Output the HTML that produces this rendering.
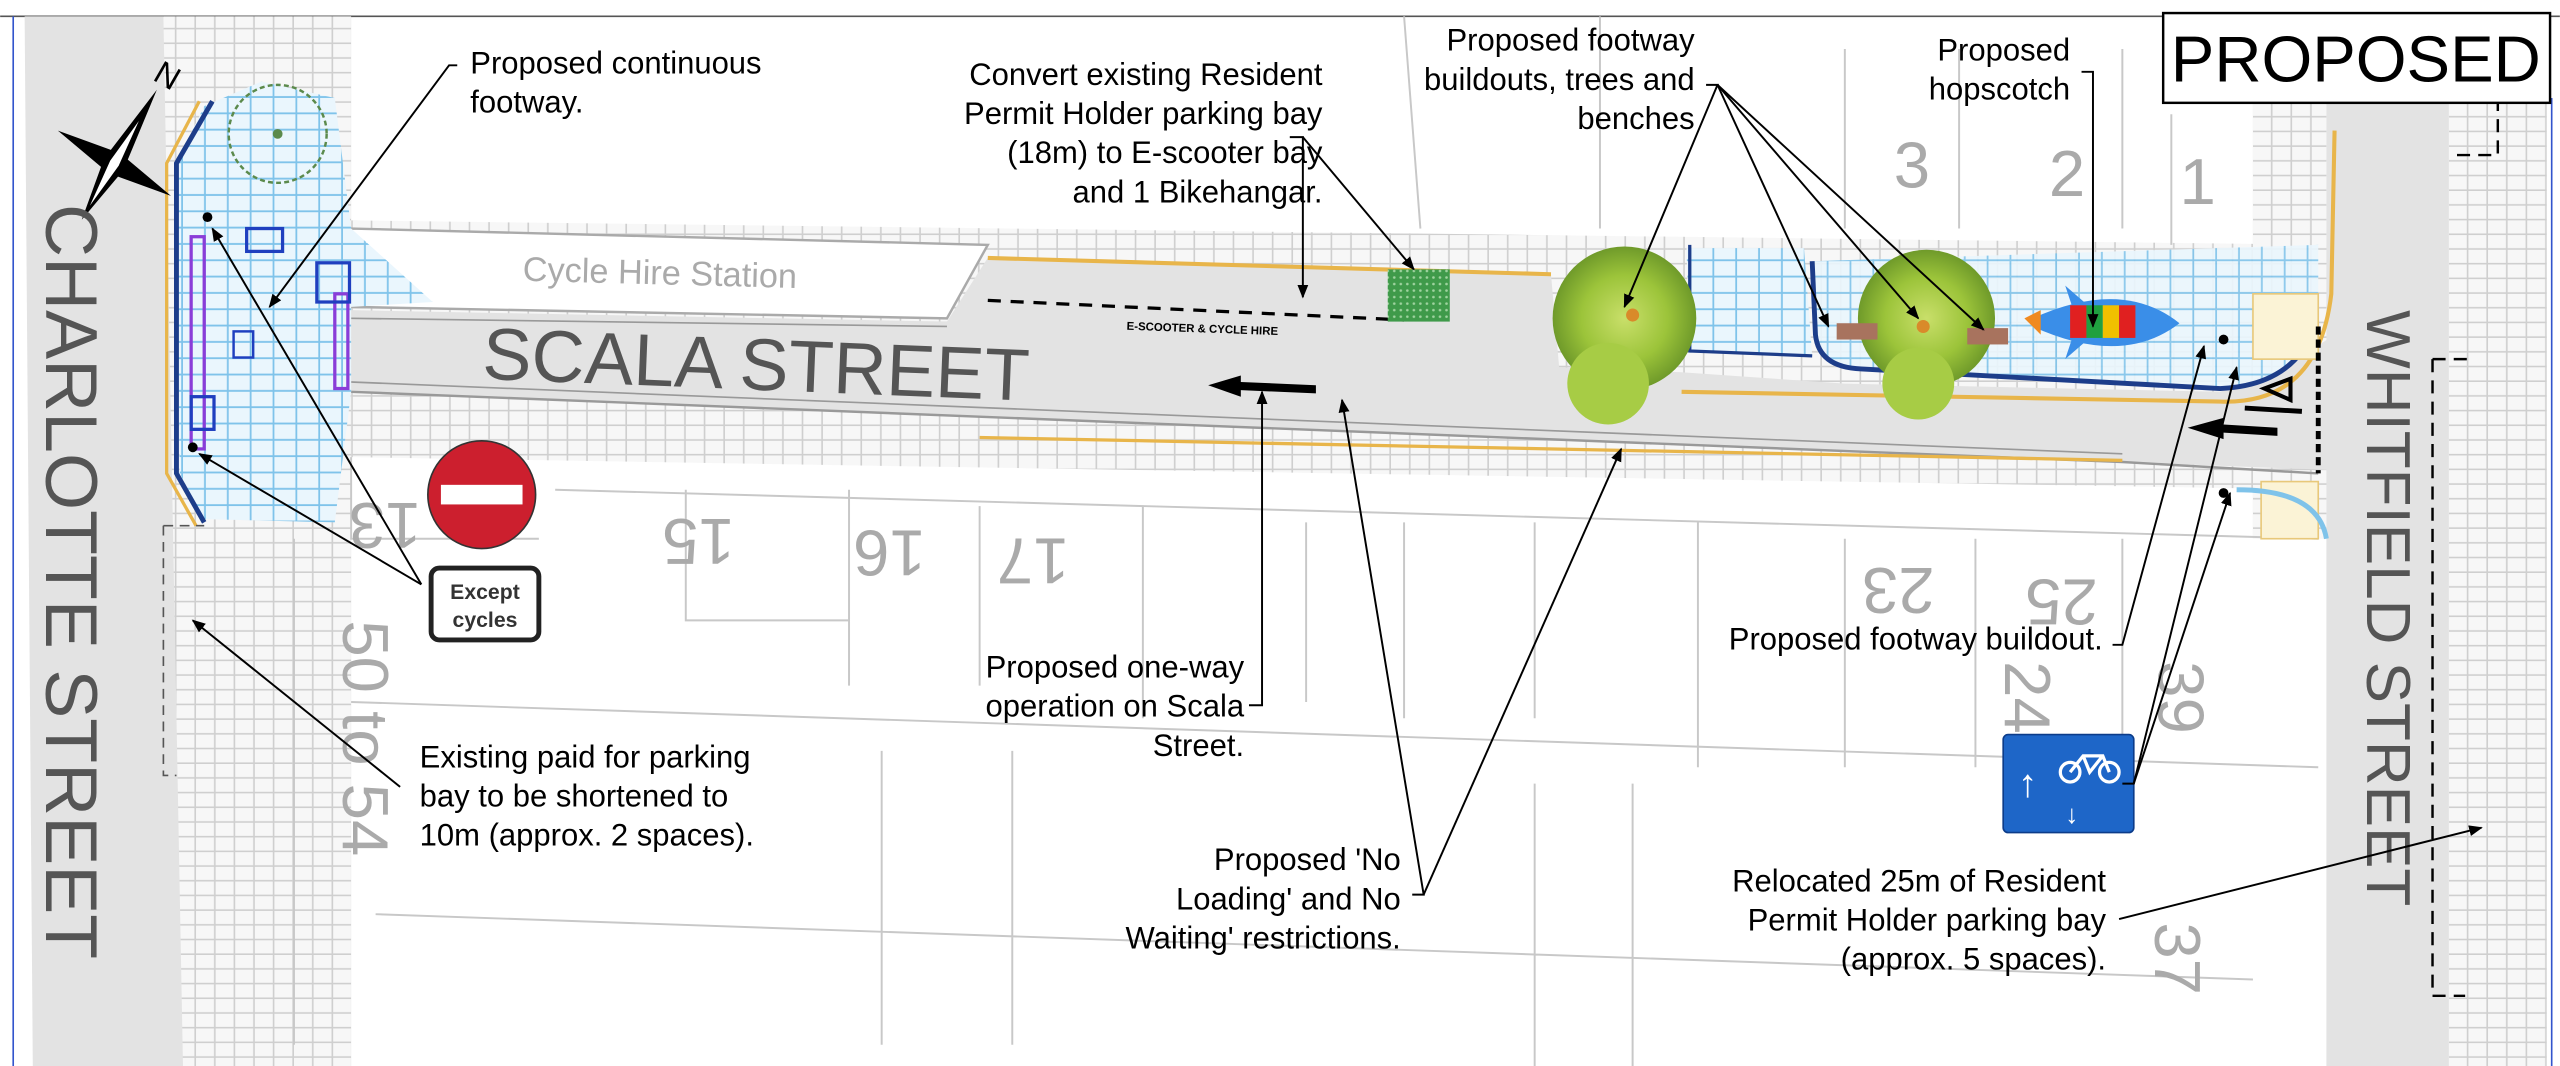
<!DOCTYPE html>
<html><head><meta charset="utf-8"><style>
html,body{margin:0;padding:0;background:#fff;}
svg{display:block;}
text{font-family:"Liberation Sans",Arial,sans-serif;}
</style></head><body>
<svg width="2560" height="1066" viewBox="0 0 1568 653" xmlns="http://www.w3.org/2000/svg">
<defs>
<pattern id="pave" width="12" height="9" patternUnits="userSpaceOnUse">
<rect width="12" height="9" fill="#f7f7f7"/>
<path d="M0 8.5H12M11.5 0V9" stroke="#cfcfcf" stroke-width="1"/>
</pattern>
<pattern id="blue" width="14" height="10" patternUnits="userSpaceOnUse">
<rect width="14" height="10" fill="#eaf6fd"/>
<path d="M0 9.5H14M13.5 0V10" stroke="#7fc3ea" stroke-width="1.2"/>
</pattern>
<pattern id="green" width="4" height="4" patternUnits="userSpaceOnUse">
<rect width="4" height="4" fill="#3f9a4a"/><circle cx="2" cy="2" r="0.8" fill="#9fd39f"/>
</pattern>
<marker id="ar" viewBox="0 0 10 10" refX="9" refY="5" markerWidth="7" markerHeight="7" orient="auto-start-reverse">
<path d="M0 1L10 5L0 9z" fill="#000"/></marker>
<radialGradient id="tree"><stop offset="0" stop-color="#c9df6a"/><stop offset="0.6" stop-color="#9cc43a"/><stop offset="1" stop-color="#6f9a2a"/></radialGradient>
</defs>
<rect width="1568" height="653" fill="#fff"/>
<line x1="0" y1="10" x2="1568" y2="10" stroke="#555" stroke-width="1"/>
<line x1="8" y1="10" x2="8" y2="653" stroke="#3355cc" stroke-width="1"/>
<line x1="1563" y1="60" x2="1563" y2="653" stroke="#3355cc" stroke-width="1"/>

<polygon points="100,10 215,10 215,653 100,653" fill="url(#pave)"/>
<polygon points="215,135 1430,150 1430,300 215,280" fill="url(#pave)"/>
<polygon points="1500,60 1560,60 1560,653 1500,653" fill="url(#pave)"/>
<polygon points="1380,60 1425,60 1425,330 1380,330" fill="url(#pave)"/>
<g fill="none" stroke="#c8c8c8" stroke-width="1.2">
<path d="M215 280 L215 330 L330 330 M340 300 L1420 330"/>
<path d="M420 300 L420 380 L520 380 M520 300 L520 420 M600 310 L600 420 M700 310 L700 440 M800 320 L800 430 M860 320 L860 440 M940 320 L940 440 M1040 320 L1040 470 M1130 330 L1130 470 M1210 330 L1210 470 M1300 330 L1300 460"/>
<path d="M180 330 L180 640 M215 430 L1420 470 M230 560 L1380 600 M540 460 L540 640 M620 460 L620 640 M940 480 L940 653 M1000 480 L1000 653"/>
<path d="M980 10 L980 140 M1130 30 L1130 140 M1200 30 L1200 140 M1300 30 L1300 140 M1330 70 L1330 150 M860 10 L870 140"/>
</g>
<polygon points="15,10 100,10 112,653 20,653" fill="#e3e3e3"/>
<polygon points="1425,60 1500,60 1500,653 1425,653" fill="#e3e3e3"/>
<polygon points="215,140 605,150 580,195 215,188" fill="#fff" stroke="#aaa" stroke-width="1.5"/>
<polygon points="215,190 580,197 605,158 950,168 955,225 1030,228 1130,235 1360,240 1400,225 1430,205 1430,288 1300,283 215,240" fill="#e3e3e3"/>
<path d="M215 240 L1300 283 L1420 290" stroke="#999" stroke-width="1.5" fill="none"/>
<path d="M215 234 L1300 278" stroke="#999" stroke-width="1" fill="none"/>
<path d="M605 158 L950 168" stroke="#e8b54a" stroke-width="2.5" fill="none"/>
<path d="M600 268 L1300 282" stroke="#e8b54a" stroke-width="2" fill="none"/>
<path d="M215 195 L580 200" stroke="#999" stroke-width="1" fill="none"/>
<path d="M1030 240 L1360 246 Q1420 248 1428 180 L1430 80" stroke="#e8b54a" stroke-width="2.5" fill="none"/>

<polygon points="125,65 160,50 205,60 215,140 265,185 215,188 215,240 205,320 125,318 110,290 108,100" fill="url(#blue)"/>
<path d="M130 62 L108 100 L108 290 L125 320" stroke="#1d3d8a" stroke-width="3" fill="none"/>
<path d="M122 62 L102 100 L102 290 L120 322" stroke="#e8b54a" stroke-width="2" fill="none"/>
<circle cx="170" cy="82" r="30" fill="none" stroke="#5b8a4c" stroke-width="1.5" stroke-dasharray="3 2"/>
<circle cx="170" cy="82" r="3" fill="#5b8a4c"/>
<rect x="117" y="145" width="8" height="130" fill="none" stroke="#8a3dd8" stroke-width="2"/>
<rect x="205" y="180" width="8" height="58" fill="none" stroke="#8a3dd8" stroke-width="2"/>
<rect x="151" y="140" width="22" height="14" fill="none" stroke="#1f3fbf" stroke-width="2"/>
<rect x="194" y="161" width="20" height="24" fill="none" stroke="#1f3fbf" stroke-width="2"/>
<rect x="143" y="203" width="12" height="16" fill="none" stroke="#1f3fbf" stroke-width="1.5"/>
<rect x="117" y="243" width="14" height="20" fill="none" stroke="#1f3fbf" stroke-width="2"/>
<circle cx="127" cy="133" r="3" fill="#000"/><circle cx="118" cy="274" r="3" fill="#000"/>
<path d="M100 322 L125 322 M100 322 L100 475 L108 475" stroke="#555" stroke-dasharray="6 4" fill="none"/>

<g transform="translate(70,100) rotate(30)">
<path d="M0 -52 L6 -6 L40 0 L6 6 L0 40 L-6 6 L-40 0 L-6 -6Z" fill="#000"/>
<path d="M0 -30 L3 0 L0 30 L-3 0Z" fill="#fff"/>
<text x="-6" y="-56" font-size="20">N</text>
</g>

<text x="0" y="0" font-size="45" fill="#555" transform="translate(28,125) rotate(90)">CHARLOTTE STREET</text>
<text x="0" y="0" font-size="38" fill="#555" transform="translate(1450,190) rotate(90)">WHITFIELD STREET</text>
<text x="0" y="0" font-size="45" fill="#555" transform="translate(295,232) rotate(2.3)">SCALA STREET</text>
<text x="0" y="0" font-size="21" fill="#aaa" transform="translate(320,172) rotate(1.5)">Cycle Hire Station</text>
<text x="0" y="0" font-size="7" fill="#000" font-weight="bold" transform="translate(690,202) rotate(2)">E-SCOOTER &amp; CYCLE HIRE</text>
<path d="M605 184 L860 196" stroke="#000" stroke-width="2" stroke-dasharray="8 6"/>
<rect x="850" y="165" width="38" height="32" fill="url(#green)"/>

<g font-size="40" fill="#aaa">
<text x="1160" y="115">3</text><text x="1255" y="120">2</text><text x="1335" y="125">1</text>
<text transform="translate(450,318) rotate(180)">15</text>
<text transform="translate(567,325) rotate(180)">16</text>
<text transform="translate(655,330) rotate(180)">17</text>
<text transform="translate(258,308) rotate(180)">13</text>
<text transform="translate(1185,348) rotate(180)">23</text>
<text transform="translate(1285,355) rotate(180)">25</text>
<text transform="translate(1228,405) rotate(90)">24</text>
<text transform="translate(1322,405) rotate(90)">39</text>
<text transform="translate(1320,565) rotate(90)">37</text>
<text transform="translate(210,380) rotate(90)">50 to 54</text>
</g>

<path d="M1033 152 L1105 152 L1110 218 L1035 216Z" fill="url(#blue)"/>
<path d="M1110 160 L1112 205 Q1114 225 1140 226 L1360 238 Q1410 235 1420 190 L1420 150 L1110 160" fill="url(#blue)" opacity="0.9"/>
<path d="M1110 160 L1112 205 Q1114 225 1140 226 L1360 238 Q1405 236 1418 200" stroke="#1d3d8a" stroke-width="3" fill="none"/>
<path d="M1035 150 L1035 215 L1110 218" stroke="#1d3d8a" stroke-width="2" fill="none"/>
<rect x="1380" y="180" width="40" height="40" fill="#fbf3d6" stroke="#e8c87a"/>
<rect x="1385" y="295" width="35" height="35" fill="#fbf3d6" stroke="#e8c87a"/>
<path d="M1370 300 Q1420 300 1425 330" stroke="#7fc3ea" stroke-width="3" fill="none"/>
<circle cx="995" cy="195" r="44" fill="url(#tree)"/>
<circle cx="985" cy="235" r="25" fill="#a7cc45"/>
<circle cx="1180" cy="195" r="42" fill="url(#tree)"/>
<circle cx="1175" cy="235" r="22" fill="#a7cc45"/>
<circle cx="1000" cy="193" r="4" fill="#d98a2a"/><circle cx="1178" cy="200" r="4" fill="#d98a2a"/>
<rect x="1125" y="198" width="25" height="10" fill="#a8735e"/>
<rect x="1205" y="201" width="25" height="10" fill="#a8735e"/>
<path d="M1245 195 Q1300 170 1335 198 Q1300 225 1245 200Z" fill="#3a8ee8"/>
<path d="M1265 175 L1280 188 L1270 190Z M1265 220 L1280 207 L1270 205Z" fill="#3a8ee8"/>
<rect x="1268" y="187" width="10" height="20" fill="#e02020"/><rect x="1278" y="187" width="10" height="20" fill="#20a040"/><rect x="1288" y="187" width="10" height="20" fill="#f0c000"/><rect x="1298" y="187" width="10" height="20" fill="#e02020"/>
<path d="M1240 195 L1250 190 L1250 205Z" fill="#f08a20"/>
<circle cx="1362" cy="208" r="3" fill="#000"/><circle cx="1362" cy="302" r="3" fill="#000"/>
<path d="M740 236 L760 230 L760 234 L806 236 L806 241 L760 239 L760 243Z" fill="#000"/>
<path d="M1340 262 L1362 256 L1362 260 L1395 262 L1395 267 L1362 265 L1362 269Z" fill="#000"/>
<path d="M1403 232 L1403 245 L1387 238Z" fill="none" stroke="#000" stroke-width="2.5"/>
<path d="M1375 250 L1410 252" stroke="#000" stroke-width="3"/>
<path d="M1420 200 L1420 290" stroke="#000" stroke-width="3" stroke-dasharray="5 3"/>
<path d="M1490 220 L1512 220 M1490 220 L1490 610 L1510 610" stroke="#000" stroke-width="1.5" stroke-dasharray="8 5" fill="none"/>
<path d="M1505 95 L1530 95 L1530 10" stroke="#000" stroke-width="1.5" stroke-dasharray="8 5" fill="none"/>

<circle cx="295" cy="303" r="33" fill="#cc1f2e" stroke="#333" stroke-width="1"/>
<rect x="270" y="297" width="50" height="12" fill="#fff"/>
<rect x="264" y="348" width="66" height="44" rx="5" fill="#fff" stroke="#222" stroke-width="3"/>
<text x="297" y="367" font-size="13" font-weight="bold" text-anchor="middle" fill="#333">Except</text>
<text x="297" y="384" font-size="13" font-weight="bold" text-anchor="middle" fill="#333">cycles</text>
<rect x="1227" y="450" width="80" height="60" rx="3" fill="#1e66c8" stroke="#0c3c8a"/>
<text x="1236" y="488" font-size="24" fill="#fff" font-weight="bold">↑</text>
<text x="1265" y="504" font-size="16" fill="#fff" font-weight="bold">↓</text>
<circle cx="1268" cy="473" r="6" fill="none" stroke="#fff" stroke-width="2"/><circle cx="1292" cy="473" r="6" fill="none" stroke="#fff" stroke-width="2"/>
<path d="M1268 473 L1276 463 L1288 463 L1292 473 M1276 463 L1280 473 L1288 463" stroke="#fff" stroke-width="2" fill="none"/>

<rect x="1325" y="8" width="237" height="55" fill="#fff" stroke="#000" stroke-width="1.5"/>
<text x="1443" y="50" font-size="40" text-anchor="middle">PROPOSED</text>

<g font-size="19" fill="#000">
<text x="288" y="45">Proposed continuous</text><text x="288" y="69">footway.</text>
<g text-anchor="end"><text x="810" y="52">Convert existing Resident</text><text x="810" y="76">Permit Holder parking bay</text><text x="810" y="100">(18m) to E-scooter bay</text><text x="810" y="124">and 1 Bikehangar.</text>
<text x="1038" y="31">Proposed footway</text><text x="1038" y="55">buildouts, trees and</text><text x="1038" y="79">benches</text>
<text x="1268" y="37">Proposed</text><text x="1268" y="61">hopscotch</text>
<text x="762" y="415">Proposed one-way</text><text x="762" y="439">operation on Scala</text><text x="762" y="463">Street.</text>
<text x="858" y="533">Proposed 'No</text><text x="858" y="557">Loading' and No</text><text x="858" y="581">Waiting' restrictions.</text>
<text x="1288" y="398">Proposed footway buildout.</text>
<text x="1290" y="546">Relocated 25m of Resident</text><text x="1290" y="570">Permit Holder parking bay</text><text x="1290" y="594">(approx. 5 spaces).</text></g>
<text x="257" y="470">Existing paid for parking</text><text x="257" y="494">bay to be shortened to</text><text x="257" y="518">10m (approx. 2 spaces).</text>
</g>

<g stroke="#000" stroke-width="1.2" fill="none">
<path d="M280 40 L275 40 L165 188" marker-end="url(#ar)"/>
<path d="M790 84 L798 84 L798 182" marker-end="url(#ar)"/>
<path d="M798 84 L866 165" marker-end="url(#ar)"/>
<path d="M1045 52 L1052 52 L995 188" marker-end="url(#ar)"/>
<path d="M1052 52 L1120 200" marker-end="url(#ar)"/>
<path d="M1052 52 L1175 195" marker-end="url(#ar)"/>
<path d="M1052 52 L1215 202" marker-end="url(#ar)"/>
<path d="M1275 44 L1282 44 L1282 200" marker-end="url(#ar)"/>
<path d="M765 432 L773 432 L773 240" marker-end="url(#ar)"/>
<path d="M865 548 L872 548 L822 245" marker-end="url(#ar)"/>
<path d="M872 548 L993 275" marker-end="url(#ar)"/>
<path d="M1294 395 L1300 395 L1350 212" marker-end="url(#ar)"/>
<path d="M1300 480 L1307 480 L1370 225" marker-end="url(#ar)"/>
<path d="M1307 480 L1366 302" marker-end="url(#ar)"/>
<path d="M1298 563 L1520 507" marker-end="url(#ar)"/>
<path d="M245 482 L118 380" marker-end="url(#ar)"/>
<path d="M258 358 L130 140" marker-end="url(#ar)"/>
<path d="M258 358 L122 278" marker-end="url(#ar)"/>
</g>
</svg>
</body></html>
